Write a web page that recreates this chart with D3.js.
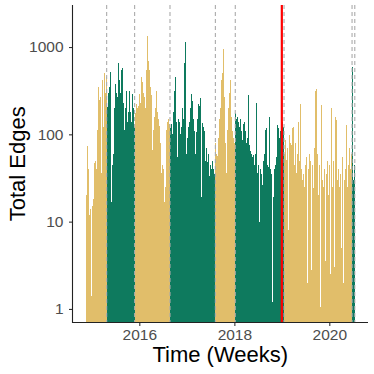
<!DOCTYPE html>
<html><head><meta charset="utf-8">
<script src="https://cdn.jsdelivr.net/npm/d3@7"></script>
<style>body{margin:0;background:#fff}</style></head>
<body><svg id="c" width="374" height="374"></svg>
<script>
// ---- data ----
const phaseStarts = ["2014-11-15","2015-04-25","2015-11-26","2016-08-24","2017-08-08","2018-01-08","2019-01-18","2020-06-24"];
const phaseEnd = "2020-07-15";
const redLineDate = "2019-01-01";
const gold1Values  = [20,73,40,15,12,14,1.4,15,18,47,50,40,112,200,350,250,270,36,415,120,500,300,450];
const green1Values = [205,250,300,350,520,17,45,60,200,380,300,270,660,107,415,300,550,575,230,112,200,315,140,180,200,315,180,140,290,200,120];
const gold2Values  = [175,160,225,200,210,290,230,455,400,300,270,200,250,550,1350,700,550,350,280,66,112,160,200,315,175,180,150,123,80,36,45,40,17,25,60,112,140,150,130];
const green2Values = [117,130,100,180,315,455,250,140,55,150,140,100,120,200,150,650,1150,300,60,90,120,140,200,290,240,150,110,60,21,107,150,225,210,260,19,134,120,110,21,50,70,48,60,33,45,40,50,40,35,45];
const gold3Values  = [79,60,57,90,150,200,415,500,960,270,130,80,36,112,200,300,415,160,110,90,51,80];
const green3Values = [175,150,160,140,120,150,110,85,130,100,140,110,79,90,280,75,65,60,55,58,51,45,60,230,36,45,10,40,35,26,40,50,60,112,117,45,42,160,40,35,1.2,19,40,30,45,55,128,117,90,110,130,140,120];
const gold4Values  = [60,85,51,70,8,98,80,60,75,117,121,45,80,36,60,140,50,4.3,225,40,30,35,25,45,55,2,40,60,50,35,2.8,45,24,70,316,334,60,20,45,1.05,1,215,30,25,40,3.5,35,50,20,45,1,2.5,200,25,50,3,158,145,30,40,25,20,35,5,55,2,30,40,128,25,45,69,40,30,60];
const green4Values = [590,30,45];
const phaseValues = [gold1Values, green1Values, gold2Values, green2Values, gold3Values, green3Values, gold4Values, green4Values];
const phaseColors = ["#E1BE6A", "#0E7A5E"];
const xTickYears = [2016, 2018, 2020];
const yTickValues = [1, 10, 100, 1000];

// ---- chart ----
const svg = d3.select("#c");
const parse = d3.timeParse("%Y-%m-%d");
const plotLeft = 72.5, plotRight = 368, plotTop = 5, plotBottom = 322.5;

const x = d3.scaleTime()
  .domain([new Date(2016,0,1), new Date(2020,0,1)])
  .range([139.3, 329.3]);
const y = d3.scaleLog().domain([0.69, 3030]).range([323, plotTop]);

const bars = [];
phaseValues.forEach((vals, p) => {
  const start = parse(phaseStarts[p]);
  vals.forEach((v, i) => {
    bars.push({date: d3.timeDay.offset(start, 7*i), value: v, color: phaseColors[p % 2]});
  });
});

svg.append("g").attr("shape-rendering", "crispEdges").selectAll("rect").data(bars).join("rect")
  .attr("x", d => Math.round(x(d.date)))
  .attr("width", 1)
  .attr("y", d => y(d.value))
  .attr("height", d => plotBottom - y(d.value))
  .attr("fill", d => d.color);

const dashDates = phaseStarts.slice(1).concat([phaseEnd]).map(parse);
svg.append("g").selectAll("line").data(dashDates).join("line")
  .attr("x1", d => x(d)).attr("x2", d => x(d))
  .attr("y1", plotTop).attr("y2", plotBottom)
  .attr("stroke", "#ababab").attr("stroke-width", 1.1)
  .attr("stroke-dasharray", "4,3");

svg.append("line")
  .attr("x1", x(parse(redLineDate))).attr("x2", x(parse(redLineDate)))
  .attr("y1", plotTop).attr("y2", plotBottom)
  .attr("stroke", "#FF0000").attr("stroke-width", 2.2);

// axes
const font = "'Liberation Sans', Arial, Helvetica, sans-serif";
const yAxis = svg.append("g").attr("transform", `translate(${plotLeft},0)`)
  .call(d3.axisLeft(y).tickValues(yTickValues).tickFormat(d3.format("d")).tickSize(3.5).tickPadding(5.5).tickSizeOuter(0));
yAxis.select(".domain").remove();
const xAxis = svg.append("g").attr("transform", `translate(0,${plotBottom})`)
  .call(d3.axisBottom(x).tickValues(xTickYears.map(yr => new Date(yr,0,1))).tickFormat(d3.timeFormat("%Y")).tickSize(3.5).tickPadding(2.5));
xAxis.select(".domain").remove();
[yAxis, xAxis].forEach(a => {
  a.selectAll(".tick line").attr("stroke", "#333").attr("stroke-width", 1.1);
  a.selectAll(".tick text").attr("fill", "#4d4d4d").style("font-family", font).style("font-size", "15.5px");
});
svg.append("line").attr("x1", plotLeft).attr("x2", plotLeft).attr("y1", plotTop).attr("y2", plotBottom + 0.5)
  .attr("stroke", "#222").attr("stroke-width", 1.1);
svg.append("line").attr("x1", plotLeft - 0.5).attr("x2", plotRight).attr("y1", plotBottom).attr("y2", plotBottom)
  .attr("stroke", "#222").attr("stroke-width", 1.1);

svg.append("text").text("Time (Weeks)")
  .attr("x", (plotLeft + plotRight) / 2).attr("y", 362)
  .attr("text-anchor", "middle").style("font-family", font).style("font-size", "22px").attr("fill", "#000");
svg.append("text").text("Total Edges")
  .attr("transform", `translate(24.5,${(plotTop + plotBottom) / 2}) rotate(-90)`)
  .attr("text-anchor", "middle").style("font-family", font).style("font-size", "22px").attr("fill", "#000");
</script>
</body></html>
